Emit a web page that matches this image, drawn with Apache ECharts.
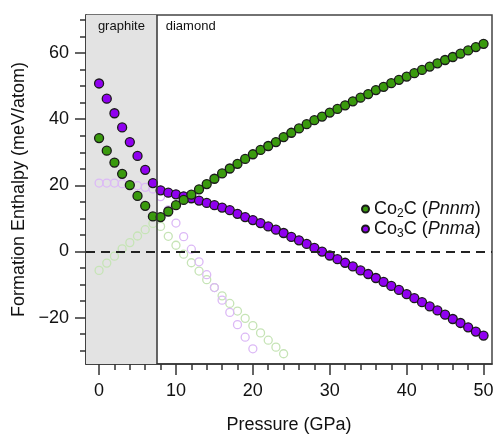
<!DOCTYPE html>
<html>
<head>
<meta charset="utf-8">
<script src="https://cdn.jsdelivr.net/npm/echarts@6/dist/echarts.min.js"></script>
<style>
  html, body { margin: 0; padding: 0; background: #fff; }
  #chart { width: 493px; height: 434px; }
</style>
</head>
<body>
<div id="chart"></div>
<script>
// Pressure grid (GPa) for the stable-phase curves
const pressureGPa = [0,1,2,3,4,5,6,7,8,9,10,11,12,13,14,15,16,17,18,19,20,21,22,23,24,25,
  26,27,28,29,30,31,32,33,34,35,36,37,38,39,40,41,42,43,44,45,46,47,48,49,50];

// Formation enthalpy (meV/atom) relative to the stable carbon phase
const co2cStable = [34.3,30.5,26.9,23.5,20.1,16.8,13.8,10.6,10.4,12.1,14.0,15.6,17.2,18.8,20.4,22.0,
  23.6,25.1,26.5,28.0,29.4,30.7,31.9,33.1,34.6,35.9,37.2,38.5,39.7,40.8,42.0,43.1,44.2,45.4,46.5,
  47.6,48.8,49.8,50.9,51.9,52.9,53.9,54.9,55.9,56.9,57.9,58.8,59.8,60.8,61.8,62.8];
const co3cStable = [50.8,46.2,41.8,37.5,33.1,28.9,24.7,20.7,18.5,17.8,17.3,16.7,16.1,15.4,14.7,14.0,
  13.3,12.5,11.4,10.4,9.5,8.6,7.6,6.6,5.6,4.4,3.4,2.3,1.1,0.0,-1.2,-2.3,-3.4,-4.5,-5.7,-6.8,-8.0,
  -9.2,-10.4,-11.6,-12.9,-14.1,-15.3,-16.6,-17.8,-19.1,-20.4,-21.6,-22.9,-24.2,-25.4];

// Same compounds referenced to the metastable carbon phase
const co2cOtherP = [0,1,2,3,4,5,6,7,8,9,10,11,12,13,14,15,16,17,18,19,20,21,22,23,24];
const co2cOther = [-5.7,-3.5,-1.4,0.8,2.7,4.7,6.6,8.5,7.6,4.6,1.9,-0.8,-3.4,-5.9,-8.5,-10.9,
  -13.4,-15.7,-18.0,-20.2,-22.4,-24.6,-26.8,-28.9,-30.9];
const co3cOtherP = [0,1,2,3,4,5,6,7,8,9,10,11,12,13,14,15,16,17,18,19,20];
const co3cOther = [20.7,20.7,20.7,20.5,20.3,19.9,19.4,18.9,16.6,12.6,8.6,4.5,0.7,-3.1,-7.0,-10.9,
  -14.7,-18.4,-22.1,-25.9,-29.4];

// Axis ticks
const xMajorTicks = [0,10,20,30,40,50];
const xMinorTicks = [2,4,6,8,12,14,16,18,22,24,26,28,32,34,36,38,42,44,46,48];
const yMajorTicks = [-20,0,20,40,60];
const yMinorTicks = [-30,-25,-15,-10,-5,5,10,15,25,30,35,45,50,55,65,70];

// graphite -> diamond transition pressure
const transitionGPa = 7.5;
const phaseNames = ['graphite', 'diamond'];

const X_MIN = -1.7, X_MAX = 51.1, Y_MIN = -34, Y_MAX = 71.5;
const FONT = '"Liberation Sans", Arial, sans-serif';
const GREEN = '#3a9a0e', PURPLE = '#9000f0';
const GREEN_LIGHT = '#c6e4b6', PURPLE_LIGHT = '#dcb9f6';

const zip = (xs, ys) => xs.map((x, i) => [x, ys[i]]);

const chart = echarts.init(document.getElementById('chart'), null, { renderer: 'canvas' });

const baseAxisX = { type: 'value', min: X_MIN, max: X_MAX, gridIndex: 0, position: 'bottom',
  splitLine: { show: false } };
const baseAxisY = { type: 'value', min: Y_MIN, max: Y_MAX, gridIndex: 0, position: 'left',
  splitLine: { show: false } };

chart.setOption({
  animation: false,
  backgroundColor: '#fff',
  textStyle: { fontFamily: FONT },
  grid: { left: 86, right: 1, top: 15, bottom: 70, show: true, containLabel: false,
    outerBoundsMode: 'none',
    borderColor: '#444', borderWidth: 1.5, backgroundColor: 'transparent' },
  legend: {
    data: ['Co2C', 'Co3C'],
    orient: 'vertical', left: 356, top: 195,
    icon: 'circle', itemWidth: 7, itemHeight: 7, itemGap: 0,
    formatter: name => name === 'Co2C'
      ? '{n|Co}{s|2}{n|C (}{i|Pnnm}{n|)}'
      : '{n|Co}{s|3}{n|C (}{i|Pnma}{n|)}',
    textStyle: {
      rich: {
        n: { fontSize: 18, fontFamily: FONT, color: '#111', lineHeight: 22 },
        i: { fontSize: 18, fontFamily: FONT, color: '#111', fontStyle: 'italic', lineHeight: 22 },
        s: { fontSize: 12, fontFamily: FONT, color: '#111', verticalAlign: 'bottom', lineHeight: 12 }
      }
    }
  },
  xAxis: [
    Object.assign({}, baseAxisX, {
      name: 'Pressure (GPa)', nameLocation: 'middle', nameGap: 52,
      nameTextStyle: { fontSize: 18, color: '#111', fontFamily: FONT },
      axisLine: { show: true, onZero: false, lineStyle: { color: '#333', width: 1.5 } },
      axisTick: { show: true, customValues: xMajorTicks, length: 11, lineStyle: { color: '#333', width: 1.5 } },
      axisLabel: { customValues: xMajorTicks, fontSize: 18, color: '#111', margin: 18, fontFamily: FONT }
    }),
    Object.assign({}, baseAxisX, {
      axisLine: { show: false, onZero: false },
      axisTick: { show: true, customValues: xMinorTicks, length: 6, lineStyle: { color: '#333', width: 1.5 } },
      axisLabel: { show: false }
    })
  ],
  yAxis: [
    Object.assign({}, baseAxisY, {
      name: 'Formation Enthalpy (meV/atom)', nameLocation: 'middle', nameGap: 58,
      nameTextStyle: { fontSize: 18, color: '#111', fontFamily: FONT },
      axisLine: { show: true, onZero: false, lineStyle: { color: '#333', width: 1.5 } },
      axisTick: { show: true, customValues: yMajorTicks, length: 11, lineStyle: { color: '#333', width: 1.5 } },
      axisLabel: { customValues: yMajorTicks, fontSize: 18, color: '#111', margin: 17, fontFamily: FONT,
        formatter: v => (v < 0 ? '\u2212' + Math.abs(v) : String(v)) }
    }),
    Object.assign({}, baseAxisY, {
      axisLine: { show: false, onZero: false },
      axisTick: { show: true, customValues: yMinorTicks, length: 6, lineStyle: { color: '#333', width: 1.5 } },
      axisLabel: { show: false }
    })
  ],
  series: [
    {
      name: 'Co2C-alt', type: 'scatter', xAxisIndex: 0, yAxisIndex: 0,
      data: zip(co2cOtherP, co2cOther), symbol: 'circle', symbolSize: 8,
      itemStyle: { color: 'rgba(0,0,0,0)', borderColor: GREEN_LIGHT, borderWidth: 1.3, opacity: 1 },
      silent: true,
      markArea: {
        silent: true,
        label: { show: true, fontSize: 13, color: '#111', fontFamily: FONT, distance: 5 },
        data: [
          [{ name: phaseNames[0], xAxis: X_MIN, itemStyle: { color: '#e3e3e3' },
             label: { position: 'insideTop' } },
           { xAxis: transitionGPa }],
          [{ name: phaseNames[1], xAxis: transitionGPa, itemStyle: { color: 'rgba(0,0,0,0)' },
             label: { position: 'insideTopLeft', distance: 5, offset: [4, 0] } },
           { xAxis: X_MAX }]
        ]
      },
      markLine: {
        silent: true, symbol: 'none', label: { show: false },
        data: [
          { yAxis: 0, lineStyle: { color: '#222', width: 2, type: [9, 6] } },
          { xAxis: transitionGPa, lineStyle: { color: '#333', width: 1.5, type: 'solid' } }
        ]
      }
    },
    {
      name: 'Co3C-alt', type: 'scatter', xAxisIndex: 0, yAxisIndex: 0,
      data: zip(co3cOtherP, co3cOther), symbol: 'circle', symbolSize: 8,
      itemStyle: { color: 'rgba(0,0,0,0)', borderColor: PURPLE_LIGHT, borderWidth: 1.3, opacity: 1 },
      silent: true
    },
    {
      name: 'Co3C', type: 'scatter', xAxisIndex: 0, yAxisIndex: 0,
      data: zip(pressureGPa, co3cStable), symbol: 'circle', symbolSize: 9,
      itemStyle: { color: PURPLE, borderColor: '#1a1a1a', borderWidth: 1.3, opacity: 1 }
    },
    {
      name: 'Co2C', type: 'scatter', xAxisIndex: 0, yAxisIndex: 0,
      data: zip(pressureGPa, co2cStable), symbol: 'circle', symbolSize: 9,
      itemStyle: { color: GREEN, borderColor: '#1a1a1a', borderWidth: 1.3, opacity: 1 }
    }
  ]
});
</script>
</body>
</html>
